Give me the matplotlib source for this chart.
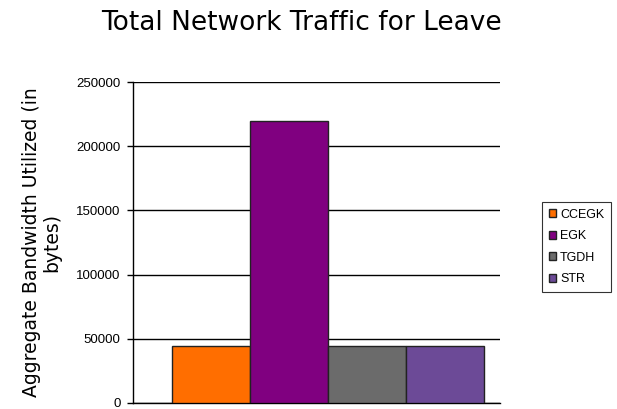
import numpy as np
import matplotlib.pyplot as plt

protocols = ['CCEGK', 'EGK', 'TGDH', 'STR']
traffic = [44000, 220000, 44000, 44000]
colors = ['#ff6e00', '#800080', '#6b6b6b', '#6c4a97']
yticks = [0, 50000, 100000, 150000, 200000, 250000]

fig = plt.figure(figsize=(6.17, 4.09), dpi=100)
ax = fig.add_axes([0.2156, 0.0147, 0.5948, 0.7848])

x = np.arange(len(protocols))
bars = ax.bar(x, traffic, width=1.0, color=colors, edgecolor='#222222',
              linewidth=1.0, zorder=3)

ax.set_xlim(-1.0, 3.705)
ax.set_ylim(0, 250000)
ax.set_yticks(yticks)
ax.set_yticklabels([str(v) for v in yticks], fontsize=9.5, family='Liberation Sans')
ax.set_xticks([])
ax.yaxis.grid(True, color='black', linewidth=1.0, zorder=0)
ax.set_axisbelow(True)
ax.tick_params(axis='y', length=4, width=1, pad=5)

for s in ['top', 'right']:
    ax.spines[s].set_visible(False)
ax.spines['left'].set_linewidth(1.0)
ax.spines['bottom'].set_linewidth(1.0)

ax.set_ylabel('Aggregate Bandwidth Utilized (in\nbytes)', fontsize=13.5,
              family='DejaVu Sans', labelpad=11, linespacing=1.05)

fig.suptitle('Total Network Traffic for Leave', fontsize=19,
             family='DejaVu Sans', x=0.489, y=0.975)

leg = fig.legend(handles=list(bars), labels=protocols, loc='upper left',
                 bbox_to_anchor=(542 / 617, 1 - 202 / 409),
                 prop={'family': 'Liberation Sans', 'size': 9},
                 frameon=True, fancybox=False, edgecolor='black',
                 handlelength=0.6, handleheight=0.6, handletextpad=0.3,
                 borderpad=0.55, labelspacing=0.75, borderaxespad=0)
leg.get_frame().set_linewidth(0.8)

fig.savefig('out.png', dpi=100)
